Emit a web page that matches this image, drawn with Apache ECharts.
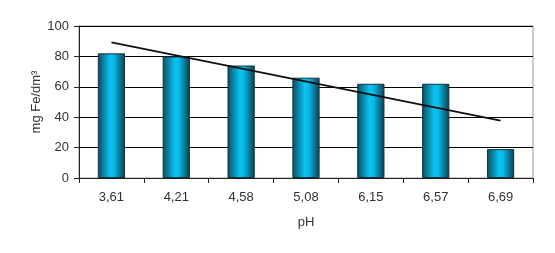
<!DOCTYPE html>
<html><head><meta charset="utf-8">
<script src="https://cdn.jsdelivr.net/npm/echarts@6/dist/echarts.min.js"></script>
<style>html,body{margin:0;padding:0;background:#fff}#c{width:555px;height:253px}</style>
</head><body><div id="c"></div>
<script>
var categories = ['3,61','4,21','4,58','5,08','6,15','6,57','6,69'];
var ironValues = [82, 80, 74, 66, 62, 62, 19];
var trendEnds = [89.3, 37.8];
var yTicks = [0, 20, 40, 60, 80, 100];

var chart = echarts.init(document.getElementById('c'), null, {renderer:'canvas'});
var barGrad = new echarts.graphic.LinearGradient(0,0,1,0,[
  {offset:0,color:'#0d4a5e'},
  {offset:0.45,color:'#08c4f2'},
  {offset:0.6,color:'#0ab8e6'},
  {offset:1,color:'#0c3d4e'}
]);
var font = 'Liberation Sans';
chart.setOption({
  animation:false,
  grid:{left:79,right:22,top:26,bottom:75,show:true,borderColor:'#999',borderWidth:1},
  xAxis:{type:'category',data:categories,name:'pH',nameLocation:'middle',nameGap:38,
    nameTextStyle:{fontFamily:font,fontSize:13,color:'#333'},
    axisLine:{lineStyle:{color:'#222',width:1}},
    axisTick:{show:true,length:5,lineStyle:{color:'#222'}},
    axisLabel:{fontFamily:font,fontSize:13,color:'#333',margin:13}},
  yAxis:{type:'value',min:yTicks[0],max:yTicks[yTicks.length-1],interval:20,
    name:'mg Fe/dm³',nameLocation:'middle',nameGap:36,nameMoveOverlap:false,
    nameTextStyle:{fontFamily:font,fontSize:13,color:'#333'},
    axisLine:{show:true,lineStyle:{color:'#222'}},
    axisTick:{show:true,length:5,inside:false,lineStyle:{color:'#222'}},
    axisLabel:{fontFamily:font,fontSize:13,color:'#333',margin:10},
    splitLine:{lineStyle:{color:'#000',width:1}}},
  series:[
    {type:'bar',data:ironValues,barWidth:'42%',
     itemStyle:{color:barGrad,borderColor:'#12323d',borderWidth:1}},
    {type:'line',data:[[0,trendEnds[0]],[categories.length-1,trendEnds[1]]],
     symbol:'none',lineStyle:{color:'#111',width:1.8},z:5}
  ]
});
</script></body></html>
